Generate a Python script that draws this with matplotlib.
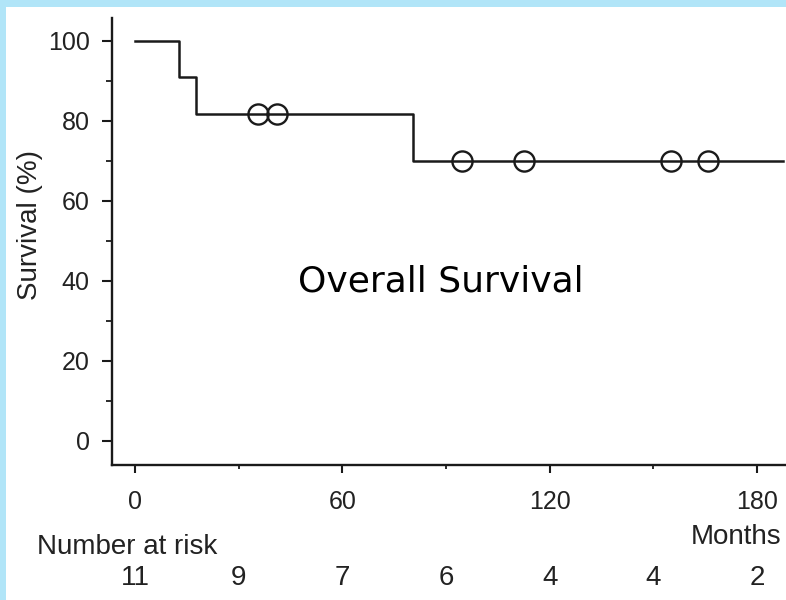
import matplotlib
matplotlib.use("Agg")
import matplotlib.pyplot as plt
from matplotlib.ticker import MultipleLocator

# Data
step_months = [0, 12.8, 17.7, 80.3, 187.5]
step_survival = [100, 90.9, 81.8, 70.1, 70.1]
censor_months = [35.6, 41.1, 94.5, 112.5, 155.0, 165.8]
censor_survival = [81.8, 81.8, 70.1, 70.1, 70.1, 70.1]
x_ticks = [0, 60, 120, 180]
y_ticks = [0, 20, 40, 60, 80, 100]
risk_months = [0, 30, 60, 90, 120, 150, 180]
risk_numbers = [11, 9, 7, 6, 4, 4, 2]

W, H = 786, 600
fig = plt.figure(figsize=(W / 100, H / 100), dpi=100)
fig.patch.set_facecolor("#B1E5F8")

bg = fig.add_axes([6 / W, 0, 1 - 6 / W, 1 - 7 / H], zorder=-10)
bg.set_axis_off()
bg.add_patch(plt.Rectangle((0, 0), 1, 1, transform=bg.transAxes,
                           facecolor="white", edgecolor="none"))

ax = fig.add_axes([112 / W, (H - 465) / H, (786 - 112) / W, (465 - 18) / H])
ax.set_facecolor("none")
ink = "#1a1a1a"
tick_font = dict(family="Liberation Sans", size=18, color="#222222")
label_font = dict(family="Liberation Sans", size=20, color="#222222")

ax.step(step_months, step_survival, where="post", color=ink, lw=1.8)
ax.plot(censor_months, censor_survival, linestyle="none", marker="o",
        markersize=14.5, markerfacecolor="none", markeredgecolor=ink,
        markeredgewidth=1.7)

ax.set_xlim(-6.7, 188.4)
ax.set_ylim(-6, 105.75)

ax.spines["top"].set_visible(False)
ax.spines["right"].set_visible(False)
for s in ("left", "bottom"):
    ax.spines[s].set_linewidth(1.7)
    ax.spines[s].set_color(ink)

ax.set_xticks(x_ticks)
ax.set_yticks(y_ticks)
ax.xaxis.set_minor_locator(MultipleLocator(30))
ax.yaxis.set_minor_locator(MultipleLocator(10))
ax.tick_params(axis="x", which="major", length=6, width=1.5, color=ink, pad=12,
               direction="out")
ax.tick_params(axis="x", which="minor", length=3, width=1.3, color=ink)
ax.tick_params(axis="y", which="major", length=7, width=1.5, color=ink, pad=9,
               direction="out")
ax.tick_params(axis="y", which="minor", length=4, width=1.3, color=ink)
ax.set_xticklabels([str(v) for v in x_ticks], fontdict=tick_font)
ax.set_yticklabels([str(v) for v in y_ticks], fontdict=tick_font)

fig.text(30 / W, 1 - 225 / H, "Survival (%)", rotation=90, ha="center",
         va="center", **label_font)
fig.text(781 / W, 1 - 537 / H, "Months", ha="right", va="center", **label_font)
fig.text(37 / W, 1 - 547 / H, "Number at risk", ha="left", va="center",
         **label_font)

risk_tf = matplotlib.transforms.blended_transform_factory(ax.transData,
                                                          fig.transFigure)
for m, n in zip(risk_months, risk_numbers):
    ax.text(m, 1 - 578 / H, str(n), transform=risk_tf, ha="center",
            va="center", clip_on=False, **label_font)

fig.text(441 / W, 1 - 282 / H, "Overall Survival", ha="center", va="center",
         fontsize=26, family="DejaVu Sans", color="black")

fig.savefig("out.png", dpi=100, facecolor=fig.get_facecolor())
